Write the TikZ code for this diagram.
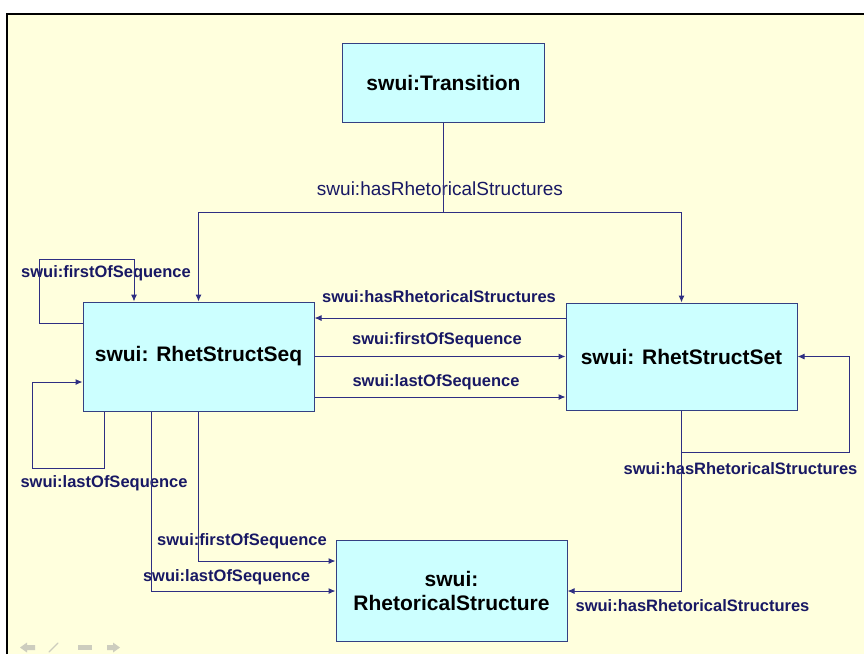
\documentclass[tikz,border=0pt]{standalone}
\usepackage{fontspec}
\setmainfont{Liberation Sans}
\usetikzlibrary{arrows.meta,calc}

\definecolor{pagebg}{RGB}{255,255,221}
\definecolor{boxfill}{RGB}{204,255,255}
\definecolor{boxline}{RGB}{52,64,130}
\definecolor{wire}{RGB}{46,46,130}
\definecolor{labelink}{RGB}{24,24,100}
\definecolor{navgray}{RGB}{205,205,190}

\tikzset{
  classbox/.style={draw=boxline, line width=1pt, fill=boxfill, rectangle,
    inner sep=0pt, align=center, text=black,
    font=\bfseries\fontsize{21}{25}\selectfont},
  conn/.style={draw=wire, line width=1pt},
  arr/.style={conn, -{Latex[length=7pt,width=6pt]}},
  rel/.style={text=labelink, inner sep=0pt, font=\bfseries\fontsize{16.5}{19}\selectfont},
  relplain/.style={text=labelink, inner sep=0pt, font=\fontsize{19}{22}\selectfont},
}

\begin{document}
\begin{tikzpicture}[x=1pt,y=-1pt]
\useasboundingbox (0,0) rectangle (864,654);

% slide background and frame
\fill[white] (0,0) rectangle (864,654);
\fill[pagebg] (7,14) rectangle (864,654);
\draw[black, line width=2pt] (7,654) -- (7,14) -- (864,14);

% classes
\node[classbox, minimum width=202pt, minimum height=79pt] (trans) at (443.5,82.5) {swui:Transition};
\node[classbox, minimum width=231pt, minimum height=109pt] (seq) at (198.5,356.5) {swui: RhetStructSeq};
\node[classbox, minimum width=231pt, minimum height=107pt] (set) at (681.5,356.5) {swui: RhetStructSet};
\node[classbox, minimum width=231pt, minimum height=101pt] (rs) at (451.5,590.5) {swui:\\[-1pt]RhetoricalStructure};

% routing rows
\coordinate (hub) at (443.5,212);
\coordinate (rowA) at (0,318);
\coordinate (rowB) at (0,397);
\coordinate (rowC) at (0,561);
\coordinate (rowD) at (0,591);
\coordinate (rowE) at (0,452);
\coordinate (setloop) at (849,452);

% relation labels
\node[relplain] (lTop) at (440,189) {swui:hasRhetoricalStructures};
\node[rel] (lHas) at (439,297) {swui:hasRhetoricalStructures};
\node[rel] (lFirst) at (437,340) {swui:firstOfSequence};
\node[rel] (lLast) at (436,382) {swui:lastOfSequence};
\node[rel] (lLoopF) at (106,273) {swui:firstOfSequence};
\node[rel] (lLoopL) at (104,483) {swui:lastOfSequence};
\node[rel] (lRsF) at (242,541) {swui:firstOfSequence};
\node[rel] (lRsL) at (226.5,577) {swui:lastOfSequence};
\node[rel] (lSetLoop) at (740.5,469) {swui:hasRhetoricalStructures};
\node[rel] (lSetRs) at (692.5,606) {swui:hasRhetoricalStructures};

% Transition -> Seq / Set
\draw[conn] (trans.south) -- (hub);
\draw[arr] (hub) -| (seq.north);
\draw[arr] (hub) -| (set.north);

% Set <-> Seq
\draw[arr] (set.west |- rowA) -- (seq.east |- rowA);
\draw[arr] (seq.east) -- (set.west);
\draw[arr] (seq.east |- rowB) -- (set.west |- rowB);

% Seq self loops
\draw[arr] ([yshift=33.5pt]seq.west) -- ++(-43,0) |- (134,259) -- ([xshift=-64.5pt]seq.north);
\draw[arr] ([xshift=-94.5pt]seq.south) |- (32,468) |- ([yshift=-25.5pt]seq.west);

% Seq -> RhetoricalStructure
\draw[arr] (seq.south) |- (rs.west |- rowC);
\draw[arr] ([xshift=-47.5pt]seq.south) |- (rs.west |- rowD);

% Set self loop and Set -> RhetoricalStructure
\draw[conn] (set.south) -- (set.south |- rowE);
\draw[arr] (set.south |- rowE) -- (setloop) |- (set.east);
\draw[arr] (set.south |- rowE) |- (rs.east |- rowD);

% navigation symbols
\fill[navgray] (20,647.5) -- (27,642.5) -- (27,645) -- (35,645) -- (35,650) -- (27,650) -- (27,652.5) -- cycle;
\draw[navgray, line width=1.3pt, line cap=round] (49,652) -- (58,643);
\fill[navgray] (78,645) rectangle (92,650);
\fill[navgray] (120,647.5) -- (113,642.5) -- (113,645) -- (107,645) -- (107,650) -- (113,650) -- (113,652.5) -- cycle;
\end{tikzpicture}
\end{document}
